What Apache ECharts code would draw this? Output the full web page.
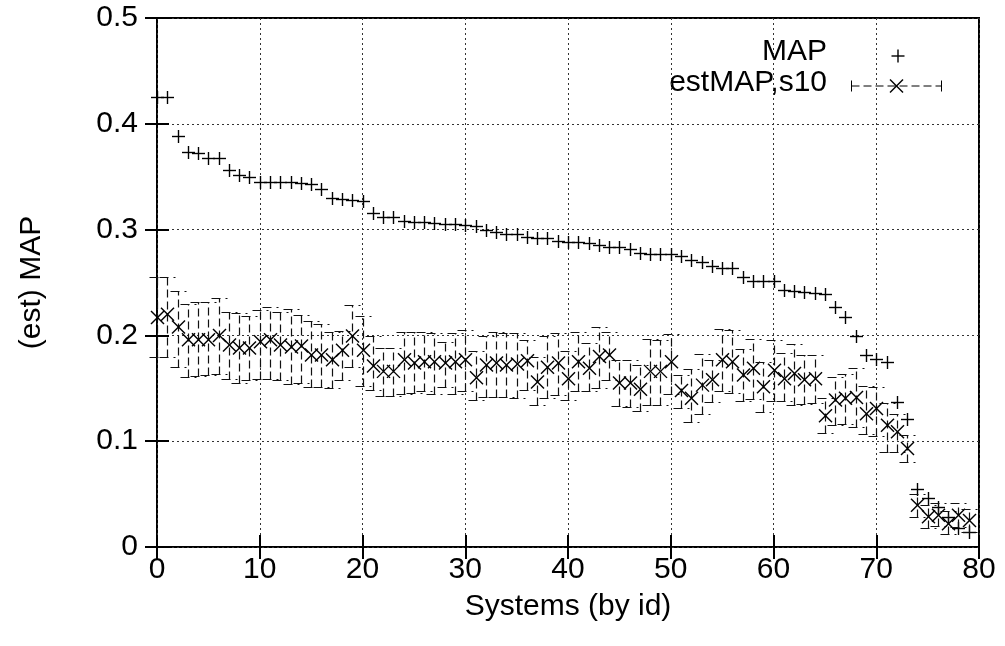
<!DOCTYPE html>
<html>
<head>
<meta charset="utf-8">
<script src="https://cdn.jsdelivr.net/npm/echarts@6/dist/echarts.min.js"></script>
<style>
  html, body { margin: 0; padding: 0; background: #fff; }
  #chart { width: 1005px; height: 646px; }
</style>
</head>
<body>
<div id="chart"></div>
<script>
// axis ticks
const xTicks = [0, 10, 20, 30, 40, 50, 60, 70, 80];
const yTicks = [0, 0.1, 0.2, 0.3, 0.4, 0.5];

// MAP per system (systems sorted by id 0..79)
const mapValues = [
  0.425, 0.425, 0.388, 0.373, 0.372, 0.368, 0.368, 0.356, 0.352, 0.350,
  0.345, 0.345, 0.345, 0.345, 0.344, 0.343, 0.338, 0.330, 0.329, 0.328,
  0.327, 0.316, 0.312, 0.312, 0.308, 0.307, 0.307, 0.306, 0.305, 0.305,
  0.304, 0.303, 0.300, 0.298, 0.296, 0.2955, 0.293, 0.2925, 0.292, 0.289,
  0.288, 0.288, 0.287, 0.2855, 0.284, 0.2835, 0.2815, 0.278, 0.277, 0.277,
  0.2765, 0.275, 0.271, 0.269, 0.266, 0.2635, 0.2635, 0.2555, 0.2515, 0.251,
  0.251, 0.243, 0.242, 0.241, 0.2405, 0.239, 0.227, 0.217, 0.199, 0.1815,
  0.178, 0.1745, 0.137, 0.121, 0.055, 0.046, 0.038, 0.028, 0.0175, 0.0145
];

// estimated MAP (s10) with error bar ends
const estValues = [
  0.217, 0.220, 0.208, 0.196, 0.196, 0.196, 0.200, 0.191, 0.188, 0.188,
  0.194, 0.196, 0.191, 0.189, 0.190, 0.1815, 0.1815, 0.177, 0.186, 0.1995,
  0.186, 0.171, 0.166, 0.166, 0.177, 0.174, 0.175, 0.175, 0.174, 0.175,
  0.177, 0.160, 0.172, 0.174, 0.172, 0.173, 0.176, 0.156, 0.170, 0.174,
  0.159, 0.175, 0.169, 0.180, 0.1815, 0.155, 0.155, 0.149, 0.166, 0.166,
  0.175, 0.148, 0.1405, 0.153, 0.158, 0.177, 0.175, 0.1625, 0.169, 0.1515,
  0.167, 0.159, 0.164, 0.158, 0.159, 0.124, 0.139, 0.1405, 0.1414, 0.126,
  0.131, 0.115, 0.109, 0.093, 0.0395, 0.0285, 0.030, 0.022, 0.030, 0.025
];
const estHigh = [
  0.255, 0.255, 0.242, 0.230, 0.232, 0.232, 0.235, 0.222, 0.221, 0.218,
  0.224, 0.227, 0.222, 0.225, 0.219, 0.214, 0.211, 0.203, 0.204, 0.229,
  0.218, 0.199, 0.188, 0.188, 0.203, 0.203, 0.203, 0.202, 0.194, 0.202,
  0.205, 0.185, 0.199, 0.203, 0.202, 0.202, 0.196, 0.180, 0.199, 0.202,
  0.185, 0.203, 0.193, 0.208, 0.203, 0.177, 0.177, 0.172, 0.197, 0.196,
  0.201, 0.1625, 0.168, 0.182, 0.177, 0.206, 0.205, 0.187, 0.197, 0.175,
  0.196, 0.183, 0.192, 0.1815, 0.1815, 0.1405, 0.161, 0.1635, 0.169, 0.152,
  0.1515, 0.136, 0.126, 0.106, 0.050, 0.040, 0.042, 0.034, 0.042, 0.036
];
const estLow = [
  0.180, 0.180, 0.170, 0.161, 0.162, 0.1625, 0.1635, 0.159, 0.155, 0.158,
  0.159, 0.159, 0.158, 0.154, 0.155, 0.1515, 0.1515, 0.150, 0.158, 0.170,
  0.152, 0.148, 0.143, 0.143, 0.145, 0.146, 0.147, 0.1446, 0.1515, 0.1446,
  0.147, 0.139, 0.142, 0.1414, 0.142, 0.1405, 0.148, 0.134, 0.1405, 0.1436,
  0.139, 0.147, 0.147, 0.150, 0.158, 0.133, 0.1325, 0.129, 0.134, 0.134,
  0.145, 0.131, 0.118, 0.126, 0.137, 0.147, 0.146, 0.138, 0.1395, 0.128,
  0.138, 0.138, 0.134, 0.135, 0.1364, 0.108, 0.115, 0.116, 0.113, 0.107,
  0.105, 0.090, 0.090, 0.0805, 0.028, 0.018, 0.020, 0.012, 0.019, 0.014
];

const FONT = 'Liberation Sans';
const FS = 30;
const INK = '#000';

const chart = echarts.init(document.getElementById('chart'), null, { renderer: 'canvas' });

// snap to pixel centres so 1px strokes stay crisp
const px = v => Math.round(v) + 0.5;

// gnuplot style point shapes
function plusShape(x, y, r) {
  return [
    { type: 'line', shape: { x1: x - r, y1: y, x2: x + r, y2: y }, style: { stroke: INK, lineWidth: 1.4 } },
    { type: 'line', shape: { x1: x, y1: y - r, x2: x, y2: y + r }, style: { stroke: INK, lineWidth: 1.4 } }
  ];
}
function crossShape(x, y, r) {
  return [
    { type: 'line', shape: { x1: x - r, y1: y - r, x2: x + r, y2: y + r }, style: { stroke: INK, lineWidth: 1.4 } },
    { type: 'line', shape: { x1: x - r, y1: y + r, x2: x + r, y2: y - r }, style: { stroke: INK, lineWidth: 1.4 } }
  ];
}
const dashBar = { stroke: '#111', lineWidth: 1.2, lineDash: [8, 4] };
const dashCap = { stroke: '#111', lineWidth: 1.2, lineDash: [9, 5] };

const tickAxis = {
  axisLine: { show: false },
  axisTick: { show: true, inside: true, length: 12, lineStyle: { color: INK, width: 2 } }
};

const option = {
  animation: false,
  textStyle: { fontFamily: FONT },
  grid: { left: 157, right: 26, top: 18, bottom: 99, show: true, borderColor: INK, borderWidth: 2, backgroundColor: 'transparent' },
  xAxis: [{
    type: 'value', min: xTicks[0], max: xTicks[xTicks.length - 1], interval: 10,
    name: 'Systems (by id)', nameLocation: 'middle', nameGap: 45,
    nameTextStyle: { fontFamily: FONT, fontSize: FS, color: INK },
    ...tickAxis,
    axisLabel: { fontFamily: FONT, fontSize: FS, color: INK, margin: 8 },
    splitLine: { show: true, lineStyle: { color: '#333', width: 1, type: [2, 3] } }
  }, {
    type: 'value', position: 'top', min: 0, max: 80, interval: 10,
    ...tickAxis, axisLabel: { show: false }, splitLine: { show: false }
  }],
  yAxis: [{
    type: 'value', min: yTicks[0], max: yTicks[yTicks.length - 1], interval: 0.1,
    name: '(est) MAP', nameLocation: 'middle', nameGap: 110, nameRotate: 90,
    nameTextStyle: { fontFamily: FONT, fontSize: FS, color: INK },
    ...tickAxis,
    axisLabel: { fontFamily: FONT, fontSize: FS, color: INK, margin: 19 },
    splitLine: { show: true, lineStyle: { color: '#333', width: 1, type: [2, 3] } }
  }, {
    type: 'value', position: 'right', min: 0, max: 0.5, interval: 0.1,
    ...tickAxis, axisLabel: { show: false }, splitLine: { show: false }
  }],
  series: [
    {
      name: 'MAP', type: 'custom', clip: false,
      data: mapValues.map((v, i) => [i, v]),
      renderItem: function (params, api) {
        const p = api.coord([api.value(0), api.value(1)]);
        return { type: 'group', children: plusShape(px(p[0]), px(p[1]), 6.5) };
      }
    },
    {
      name: 'estMAP,s10', type: 'custom', clip: false,
      data: estValues.map((v, i) => [i, v, estLow[i], estHigh[i]]),
      renderItem: function (params, api) {
        const c = api.coord([api.value(0), api.value(1)]);
        const lo = px(api.coord([api.value(0), api.value(2)])[1]);
        const hi = px(api.coord([api.value(0), api.value(3)])[1]);
        const x = px(c[0]);
        return {
          type: 'group',
          children: [
            { type: 'line', shape: { x1: x, y1: lo, x2: x, y2: hi }, style: dashBar },
            { type: 'line', shape: { x1: x - 8, y1: hi, x2: x + 8, y2: hi }, style: dashCap },
            { type: 'line', shape: { x1: x - 8, y1: lo, x2: x + 8, y2: lo }, style: dashCap }
          ].concat(crossShape(x, c[1], 6.5))
        };
      }
    }
  ],
  // key, drawn the gnuplot way: text right-justified, sample on the right
  graphic: [
    { type: 'text', right: 1005 - 827, top: 37, style: { text: 'MAP', font: FS + 'px ' + FONT, fill: INK } },
    { type: 'group', left: 889, top: 47, children: plusShape(6.5, 6.5, 6.5) },
    { type: 'text', right: 1005 - 827, top: 68, style: { text: 'estMAP,s10', font: FS + 'px ' + FONT, fill: INK } },
    { type: 'group', left: 849, top: 77, children: [
      { type: 'line', shape: { x1: 1.5, y1: 7.5, x2: 91.5, y2: 7.5 }, style: { stroke: INK, lineWidth: 1, lineDash: [8, 4] } },
      { type: 'line', shape: { x1: 1.5, y1: 2, x2: 1.5, y2: 13 }, style: { stroke: INK, lineWidth: 1 } },
      { type: 'line', shape: { x1: 91.5, y1: 2, x2: 91.5, y2: 13 }, style: { stroke: INK, lineWidth: 1 } }
    ].concat(crossShape(46.5, 7.5, 6.5)) }
  ]
};

chart.setOption(option);
</script>
</body>
</html>
